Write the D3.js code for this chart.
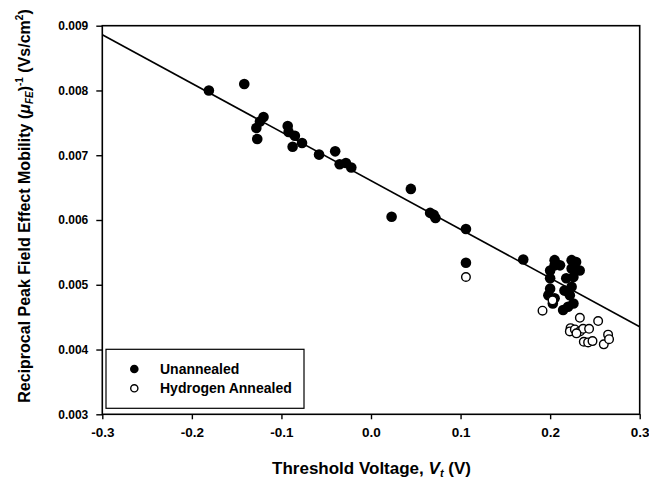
<!DOCTYPE html>
<html><head><meta charset="utf-8">
<script src="https://cdn.jsdelivr.net/npm/d3@7"></script>
<style>body{margin:0;background:#fff}</style>
</head><body>
<svg id="c" width="649" height="483"></svg>
<script>
// Data
const unannealedX = [-0.181,-0.1415,-0.120,-0.124,-0.128,-0.127,-0.093,-0.092,-0.085,-0.0875,-0.077,-0.058,-0.040,-0.035,-0.028,-0.022,
  0.023,0.0445,0.066,0.070,0.072,0.106,0.106,0.170,
  0.205,0.224,0.200,0.205,0.224,0.233,0.229,0.200,0.218,0.226,0.224,0.200,0.198,0.205,0.222,0.226,0.2145,0.220,0.203,0.211,0.216];
const unannealedY = [0.00800,0.00810,0.00759,0.00752,0.00742,0.00725,0.00745,0.00736,0.00730,0.00713,0.00719,0.00701,0.00706,0.00686,0.00688,0.00681,
  0.00605,0.00648,0.00611,0.00608,0.00603,0.00586,0.00534,0.00539,
  0.00538,0.00538,0.00522,0.00530,0.00525,0.00522,0.00535,0.00510,0.00510,0.00512,0.00497,0.00494,0.00484,0.00479,0.00484,0.00471,0.00461,0.00466,0.00471,0.00530,0.00491];
const annealedX = [0.106,0.1915,0.2027,0.2332,0.2536,0.2228,0.222,0.2276,0.2332,0.2368,0.2435,0.2376,0.2424,0.2473,0.2599,0.2647,0.2658,0.2294];
const annealedY = [0.00512,0.00460,0.00476,0.00449,0.00444,0.00433,0.00428,0.00431,0.00428,0.00432,0.00432,0.00412,0.00411,0.00413,0.00408,0.00423,0.00416,0.00425];
const fitX = [-0.3, 0.3];
const fitY = [0.00886, 0.004352];
const xTicks = [-0.3,-0.2,-0.1,0.0,0.1,0.2,0.3];
const yTicks = [0.003,0.004,0.005,0.006,0.007,0.008,0.009];
const legendLabels = ["Unannealed","Hydrogen Annealed"];

const svg = d3.select("#c");
const L=102.3, R=639.7, T=25.7, B=414.3;
const x = d3.scaleLinear().domain([-0.3,0.3]).range([L,R]);
const y = d3.scaleLinear().domain([0.003,0.009]).range([B,T]);
const font = "'Liberation Sans', Arial, sans-serif";
const fmtX = d => d3.format(".1f")(d).replace("\u2212","-");

// frame
svg.append("rect").attr("x",L).attr("y",T).attr("width",R-L).attr("height",B-T)
  .attr("fill","none").attr("stroke","#000").attr("stroke-width",1.6);

// axes
const xa = svg.append("g").attr("transform",`translate(0,${B})`)
  .call(d3.axisBottom(x).tickValues(xTicks).tickSize(5).tickPadding(8).tickFormat(fmtX));
const ya = svg.append("g").attr("transform",`translate(${L},0)`)
  .call(d3.axisLeft(y).tickValues(yTicks).tickSize(6).tickPadding(8).tickFormat(d3.format(".3f")));
[xa,ya].forEach(g=>{
  g.select(".domain").remove();
  g.selectAll("line").attr("stroke","#000").attr("stroke-width",1.4);
  g.selectAll("text").attr("font-family",font).attr("font-weight","bold").attr("fill","#000");
});
xa.selectAll("text").attr("font-size",13.5);
ya.selectAll("text").attr("font-size",12);

// fit line
svg.append("line").attr("x1",x(fitX[0])).attr("y1",y(fitY[0])).attr("x2",x(fitX[1])).attr("y2",y(fitY[1]))
  .attr("stroke","#000").attr("stroke-width",1.6);

// points
const un = d3.zip(unannealedX, unannealedY);
const an = d3.zip(annealedX, annealedY);
svg.append("g").selectAll("circle").data(un).join("circle")
  .attr("cx",d=>x(d[0])).attr("cy",d=>y(d[1])).attr("r",5.3).attr("fill","#000");
svg.append("g").selectAll("circle").data(an).join("circle")
  .attr("cx",d=>x(d[0])).attr("cy",d=>y(d[1])).attr("r",4.3).attr("fill","#fff").attr("stroke","#000").attr("stroke-width",1.4);

// legend
const lg = svg.append("g");
lg.append("rect").attr("x",106).attr("y",349.3).attr("width",198).attr("height",59)
  .attr("fill","#fff").attr("stroke","#000").attr("stroke-width",1.2);
lg.append("circle").attr("cx",134.3).attr("cy",369).attr("r",4.3).attr("fill","#000");
lg.append("circle").attr("cx",134.3).attr("cy",388.3).attr("r",3.6).attr("fill","#fff").attr("stroke","#000").attr("stroke-width",1.4);
lg.selectAll("text.l").data(legendLabels).join("text").attr("class","l")
  .attr("x",160).attr("y",(d,i)=>374+i*19.3).text(d=>d)
  .attr("font-family",font).attr("font-size",14).attr("font-weight","bold");

// x title
const xt = svg.append("text").attr("x",371.5).attr("y",474).attr("text-anchor","middle")
  .attr("font-family",font).attr("font-size",17).attr("font-weight","bold");
xt.append("tspan").text("Threshold Voltage, ");
xt.append("tspan").attr("font-style","italic").text("V");
xt.append("tspan").attr("font-size",11).attr("dy",3).attr("font-style","italic").text("t");
xt.append("tspan").attr("dy",-3).text(" (V)");

// y title
const yt = svg.append("text").attr("transform",`translate(30,206) rotate(-90)`).attr("text-anchor","middle")
  .attr("font-family",font).attr("font-size",16).attr("font-weight","bold");
yt.append("tspan").text("Reciprocal Peak Field Effect Mobility (");
yt.append("tspan").attr("font-style","italic").text("\u03bc");
yt.append("tspan").attr("font-size",10).attr("dy",3).attr("font-style","italic").text("FE");
yt.append("tspan").attr("dy",-3).text(")");
yt.append("tspan").attr("font-size",10).attr("dy",-7).text("-1");
yt.append("tspan").attr("dy",7).text(" (Vs/cm");
yt.append("tspan").attr("font-size",10).attr("dy",-7).text("2");
yt.append("tspan").attr("dy",7).text(")");
</script>
</body></html>
